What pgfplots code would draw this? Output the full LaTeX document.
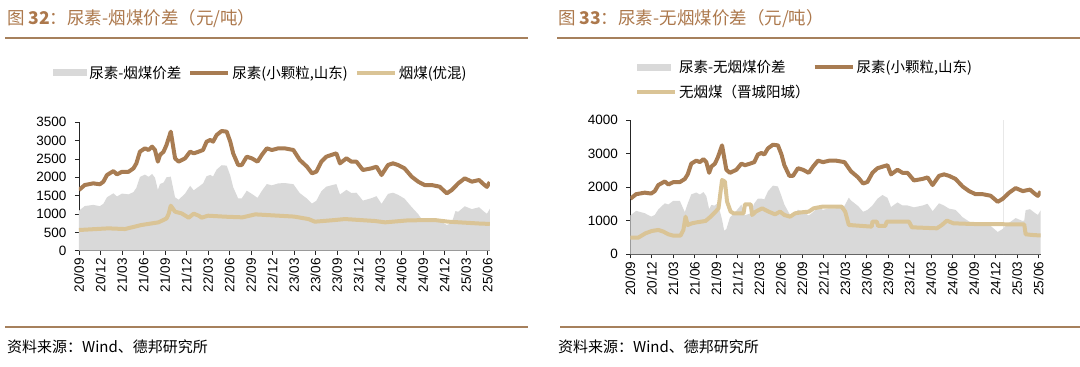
\documentclass[border=0pt]{standalone}
\usepackage{pgfplots}
\pgfplotsset{compat=1.18}
\usepackage{pgfplotstable}
\usepackage{fontspec}
\setmainfont{Liberation Sans}
\newfontfamily\cjk{Noto Sans CJK SC}
\definecolor{urea}{RGB}{168,124,82}
\definecolor{coal}{RGB}{218,196,150}
\definecolor{spread}{RGB}{217,217,217}
\definecolor{ttl}{RGB}{172,120,76}
\definecolor{rulec}{RGB}{166,128,92}

% urea (small granule, Shandong), yuan/t ; x = months since 2020-09
\pgfplotstableread{
x y
0 1655
0.8 1790
2 1836
2.9 1810
3.4 1880
3.9 2063
4.8 2170
5.3 2080
6 2150
6.9 2150
7.6 2245
8.0 2380
8.5 2700
9.2 2790
9.7 2745
10.2 2836
10.6 2745
11.0 2427
11.3 2610
11.8 2700
12.2 2880
12.8 3245
13.1 2880
13.4 2518
13.9 2427
14.8 2518
15.5 2700
16.0 2654
16.7 2700
17.3 2745
17.8 2972
18.3 3018
18.7 2972
19.2 3154
19.9 3263
20.6 3245
21.1 2972
21.5 2654
22.2 2336
22.7 2336
23.4 2563
24.1 2518
24.9 2427
25.5 2610
26.2 2790
26.9 2745
27.8 2790
28.7 2790
29.9 2745
30.8 2472
31.8 2290
32.5 2109
33.1 2154
33.8 2427
34.5 2563
35.2 2610
35.9 2654
36.4 2381
37.3 2518
38.0 2427
38.7 2427
39.6 2200
40.8 2245
41.5 2290
42.2 2063
43.1 2336
43.8 2381
44.5 2336
45.4 2245
46.4 2018
47.3 1882
48.2 1790
49.2 1790
50.3 1745
51.3 1563
52.0 1654
52.9 1836
53.8 1972
54.8 1882
55.8 1927
56.5 1800
56.9 1740
57.3 1870
}\urea

% bituminous coal (youhun)
\pgfplotstableread{
x y
0 564
4.1 609
6.4 590
8.7 700
11.1 773
12.2 880
12.5 1000
12.8 1227
13.4 1063
14.3 1018
15.3 900
16.0 1009
16.7 954
17.1 900
18.0 954
20.4 927
22.8 909
24.6 990
27.3 960
30 930
32.0 863
32.9 791
35.7 836
37.1 863
41.3 809
42.7 773
45.9 827
49.6 836
51.5 791
55.9 740
57.3 730
}\coal

% spread urea - bituminous coal
\pgfplotstableread{
x y
0 1091
0.8 1217
2 1249
2.9 1213
3.4 1278
3.9 1456
4.8 1564
5.3 1479
6 1557
6.9 1536
7.6 1597
8.0 1713
8.5 2010
9.2 2075
9.7 2014
10.2 2091
10.6 1988
11.0 1657
11.3 1818
11.8 1859
12.2 2000
12.8 2018
13.1 1735
13.4 1455
13.9 1389
14.8 1559
15.5 1769
16.0 1645
16.7 1746
17.3 1833
17.8 2030
18.3 2065
18.7 2024
19.2 2213
19.9 2330
20.6 2319
21.1 2051
21.5 1736
22.2 1424
22.7 1427
23.4 1635
24.1 1550
24.9 1440
25.5 1630
26.2 1818
26.9 1781
27.8 1835
28.7 1844
29.9 1814
30.8 1569
31.8 1420
32.5 1286
33.1 1360
33.8 1621
34.5 1746
35.2 1782
35.9 1816
36.4 1531
37.3 1658
38.0 1572
38.7 1581
39.6 1365
40.8 1432
41.5 1486
42.2 1277
43.1 1548
43.8 1581
44.5 1524
45.4 1420
46.4 1190
47.3 1000
47.8 860
48.2 850
49.2 840
50.3 820
51.3 700
52.0 760
52.5 1080
52.9 1061
53.8 1211
54.8 1134
55.8 1185
56.5 1064
56.9 1007
57.3 1140
}\spreadA

% anthracite (Jincheng Yangcheng)
\pgfplotstableread{
x y
0 496
1.1 496
2.1 625
3.0 695
3.9 725
4.6 675
5.3 596
6.0 556
7.0 556
7.4 725
7.7 1120
8.0 873
8.6 923
9.3 953
10.5 993
11.2 1120
11.9 1270
12.3 1370
12.8 2213
13.2 2164
13.5 1568
14.0 1270
14.4 1221
15.8 1221
16.0 1489
16.8 1489
17.0 1171
17.5 1270
18.4 1370
19.3 1270
20.2 1191
20.9 1270
21.5 1171
22.3 1120
23.0 1221
23.9 1250
24.9 1270
25.6 1370
26.8 1419
29.5 1419
30.0 1270
30.5 873
33.7 824
33.8 973
34.4 973
34.6 844
35.6 844
35.8 973
38.9 973
39.3 804
42.8 774
43.5 873
44.2 1003
45.1 923
47.7 903
55.0 890
55.2 596
56.1 576
57.3 560
}\anth

% spread urea - anthracite
\pgfplotstableread{
x y
0 1159
0.8 1294
2 1224
2.9 1123
3.4 1172
3.9 1338
4.8 1518
5.3 1484
6 1594
6.9 1594
7.6 1257
8.0 1507
8.5 1785
9.2 1841
9.7 1779
10.2 1853
10.6 1734
11.0 1343
11.3 1469
11.8 1451
12.2 1535
12.8 1032
13.1 704
13.4 751
13.9 1097
14.8 1297
15.5 1479
16.0 1165
16.7 1211
17.3 1515
17.8 1658
18.3 1659
18.7 1635
19.2 1873
19.9 2045
20.6 2020
21.1 1735
21.5 1483
22.2 1210
22.7 1144
23.4 1329
24.1 1264
24.9 1157
25.5 1254
26.2 1396
26.9 1326
27.8 1371
28.7 1371
29.9 1445
30.5 1687
30.8 1604
31.8 1437
32.5 1267
33.1 1321
33.8 1454
34.5 1655
35.2 1766
35.9 1681
36.4 1408
37.3 1545
38.0 1454
38.7 1454
39.6 1399
40.8 1453
41.5 1505
42.2 1284
43.1 1519
43.8 1452
44.5 1360
45.4 1324
46.4 1105
47.3 976
48.2 888
49.2 889
50.3 846
51.3 665
52.0 757
52.9 941
53.8 1079
54.8 990
55.0 1010
55.2 1314
55.8 1344
56.5 1229
56.9 1172
57.3 1310
}\spreadB

\pgfplotsset{
  panel/.style={
    scale only axis,
    axis lines=left,
    axis line style={-, black!85, line width=0.8pt},
    tick style={black!85, line width=0.8pt},
    tick align=outside,
    major tick length=4pt,
    xmin=0, xmax=57.3, ymin=0,
    xtick={0,3,...,57},
    xticklabels={20/09,20/12,21/03,21/06,21/09,21/12,22/03,22/06,22/09,22/12,23/03,23/06,23/09,23/12,24/03,24/06,24/09,24/12,25/03,25/06},
    xticklabel style={rotate=90, anchor=east, font=\fontsize{13.5}{15}\selectfont},
    yticklabel style={font=\fontsize{13.5}{15}\selectfont, xshift=-5pt},
    /pgf/number format/assume math mode=true,
    /pgf/number format/1000 sep={},
    legend cell align=left,
    legend style={draw=none, fill=none, inner sep=0pt,
      font=\fontsize{14.5}{16}\selectfont\cjk},
  },
  arealeg/.style={legend image code/.code={\fill[spread] (0pt,-3.5pt) rectangle (34pt,3.5pt);}},
  lineleg/.style={legend image code/.code={\draw[##1] (0pt,0pt) -- (38pt,0pt);}},
}

\begin{document}
\begin{tikzpicture}[x=1pt,y=1pt]
\useasboundingbox (0,0) rectangle (1080,367);

% ---------- left panel ----------
\begin{axis}[panel,
  at={(79pt,116.3pt)}, anchor=south west,
  width=410.8pt, height=128.4pt,
  ymax=3500, ytick={0,500,...,3500},
  legend columns=3,
  legend style={at={(0.443,1.384)}, anchor=center,
    /tikz/every even column/.append style={column sep=5pt}},
]
\addplot[fill=spread, draw=none, arealeg] table {\spreadA} \closedcycle;
\addlegendentry{尿素-烟煤价差}
\addplot[urea, line width=4pt, line join=round, lineleg] table {\urea};
\addlegendentry{尿素(小颗粒,山东)}
\addplot[coal, line width=4pt, line join=round, lineleg] table {\coal};
\addlegendentry{烟煤(优混)}
\end{axis}

% ---------- right panel ----------
\begin{axis}[panel,
  at={(630.4pt,112.7pt)}, anchor=south west,
  width=410.3pt, height=134.3pt,
  ymax=4000, ytick={0,1000,...,4000},
  legend columns=2,
  legend style={at={(0.011,1.462)}, anchor=north west,
    /tikz/every even column/.append style={column sep=1pt},
    /tikz/row sep=7pt},
]
\addplot[gray!18, line width=0.6pt, forget plot] coordinates {(52.1,0) (52.1,4000)};
\addplot[fill=spread, draw=none, arealeg] table {\spreadB} \closedcycle;
\addlegendentry{尿素-无烟煤价差}
\addplot[urea, line width=4pt, line join=round, lineleg] table {\urea};
\addlegendentry{尿素(小颗粒,山东)}
\addplot[coal, line width=4pt, line join=round, lineleg] table {\anth};
\addlegendentry{无烟煤（晋城阳城）}
\end{axis}

% ---------- titles, rules, sources ----------
\node[anchor=west, text=ttl, inner sep=0pt, font=\fontsize{17.5}{19}\selectfont\cjk] at (7,348) {图 \textbf{32}：尿素-烟煤价差（元/吨）};
\node[anchor=west, text=ttl, inner sep=0pt, font=\fontsize{17.5}{19}\selectfont\cjk] at (558,348) {图 \textbf{33}：尿素-无烟煤价差（元/吨）};
\draw[rulec, line width=2pt] (5,329) -- (528,329);
\draw[rulec, line width=2pt] (557,329) -- (1080,329);
\draw[rulec, line width=2pt] (5,40) -- (528,40);
\draw[rulec, line width=2pt] (560,40) -- (1080,40);
\node[anchor=west, inner sep=0pt, font=\fontsize{15}{17}\selectfont\cjk] at (7,20) {资料来源：Wind、德邦研究所};
\node[anchor=west, inner sep=0pt, font=\fontsize{15}{17}\selectfont\cjk] at (558,20) {资料来源：Wind、德邦研究所};
\end{tikzpicture}
\end{document}
